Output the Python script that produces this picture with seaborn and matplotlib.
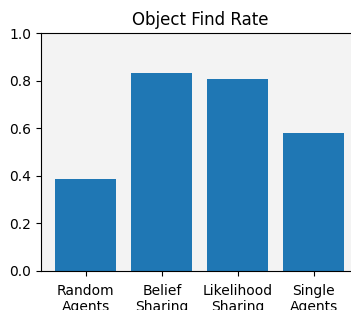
import matplotlib
matplotlib.use("Agg")
import matplotlib.pyplot as plt
import seaborn as sns
import pandas as pd

# values
methods = ["Random\nAgents", "Belief\nSharing", "Likelihood\nSharing", "Single\nAgents"]
find_rate = [0.387, 0.833, 0.806, 0.580]

df = pd.DataFrame({"method": methods, "rate": find_rate})

fig = plt.figure(figsize=(3.51, 3.10), dpi=100)
ax = fig.add_axes([0.1168, 0.127, 0.905, 0.765])
ax.set_facecolor("#f3f3f3")

sns.barplot(data=df, x="method", y="rate", color="#1f77b4", saturation=1,
            width=0.8, linewidth=0, ax=ax)

ax.set_xlim(-0.59, 3.59)
ax.set_ylim(0, 1.0)
ax.set_yticks([0.0, 0.2, 0.4, 0.6, 0.8, 1.0])
ax.set_xlabel("")
ax.set_ylabel("")
ax.spines["right"].set_visible(False)
ax.set_title("Object Find Rate", fontsize=12)
ax.tick_params(labelsize=10)
ax.tick_params(axis="x", pad=6)

fig.savefig("out.png", dpi=100)
